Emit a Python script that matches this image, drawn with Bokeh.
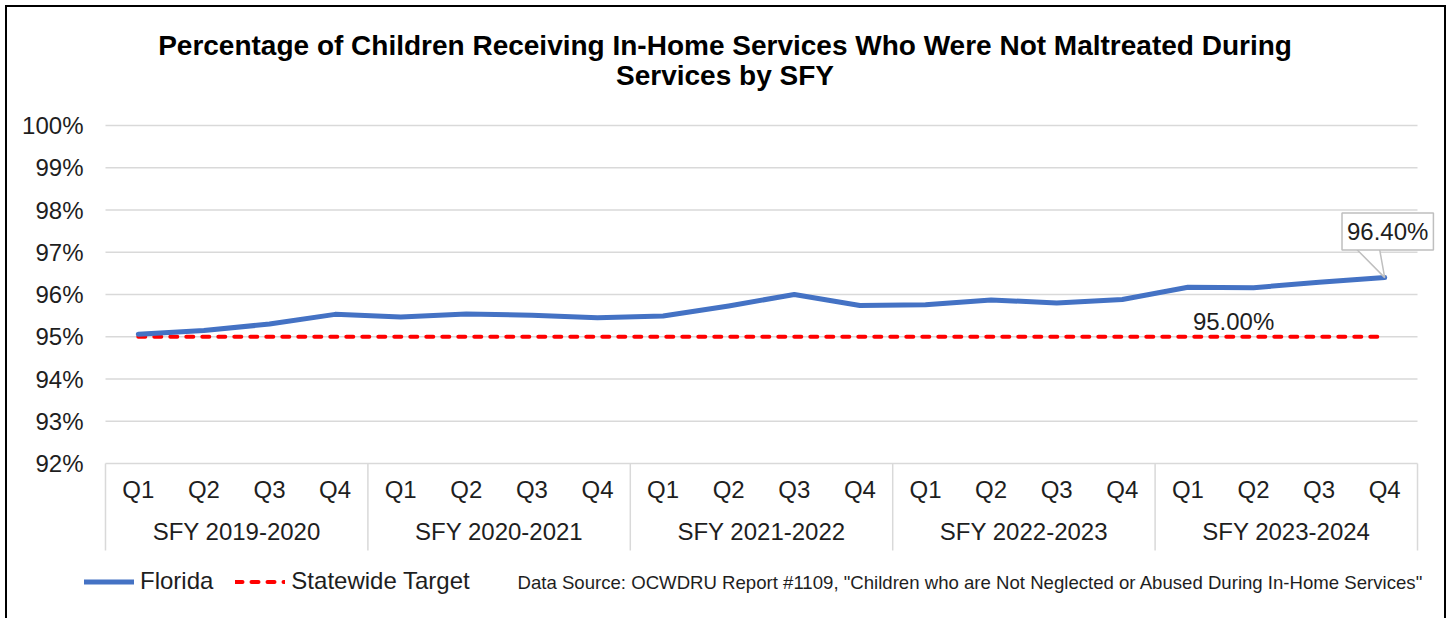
from bokeh.plotting import figure
from bokeh.models import (FactorRange, Range1d, FixedTicker, PrintfTickFormatter, Label,
                          Legend, LegendItem, ColumnDataSource)
from bokeh.core.properties import value
from bokeh.embed import file_html
from bokeh.resources import INLINE

# ---------------- data ----------------
years = ["SFY 2019-2020", "SFY 2020-2021", "SFY 2021-2022", "SFY 2022-2023", "SFY 2023-2024"]
quarters = ["Q1", "Q2", "Q3", "Q4"]
florida = [95.06, 95.15, 95.30, 95.53,
           95.47, 95.54, 95.51, 95.45,
           95.49, 95.73, 96.00, 95.74,
           95.76, 95.87, 95.80, 95.88,
           96.17, 96.16, 96.29, 96.40]
target_value = 95.00
y_ticks = [92, 93, 94, 95, 96, 97, 98, 99, 100]
title_lines = ["Percentage of Children Receiving In-Home Services Who Were Not Maltreated During",
               "Services by SFY"]
source_note = 'Data Source: OCWDRU Report #1109, "Children who are Not Neglected or Abused During In-Home Services"'
series_names = ["Florida", "Statewide Target"]

factors = [(y, q) for y in years for q in quarters]
target = [target_value for _ in factors]
n_f = len(factors)
n_q = len(quarters)


def synth(i):
    # synthetic coordinate of factor i in the FactorRange
    return i + 0.5


# ---------------- layout (pixels) ----------------
W, H = 1449, 618
TOP_BAND = 125        # title area above the 100% line (inside the frame)
PLOT_H = 338          # height of the 92%..100% band
BOTTOM_BAND = H - TOP_BAND - PLOT_H   # category labels, legend, note (inside the frame)
AXIS_BAND = 87        # height of the category-label block
CAT_W = 65.6          # pixels per quarter
PAD = 0.32            # extra categories of room on each side of the plot area
BL = round(105 - PAD * CAT_W)
BR = W - round(105 + (n_f + PAD) * CAT_W)
FONT = "Liberation Sans"
FS = "24px"
TXT = "#1e1e1e"
GRID = "#d9d9d9"
BLUE = "#4472C4"
RED = "#FF0000"

span = y_ticks[-1] - y_ticks[0]
px_unit = span / PLOT_H
y_start = y_ticks[0] - BOTTOM_BAND * px_unit
y_end = y_ticks[-1] + TOP_BAND * px_unit
sep_bottom = y_ticks[0] - AXIS_BAND * px_unit

p = figure(x_range=FactorRange(*factors, group_padding=0, range_padding=2 * PAD / n_f),
           y_range=Range1d(y_start, y_end),
           width=W, height=H, output_backend="svg", toolbar_location=None,
           min_border_left=BL, min_border_right=BR, min_border_top=0, min_border_bottom=0)
p.title.visible = False
p.outline_line_color = None
p.background_fill_color = None
p.border_fill_color = None
p.styles = {
    "background": ("linear-gradient(#000,#000) left 5px top 5px / 2px 100% no-repeat, "
                   "linear-gradient(#000,#000) left 5px top 5px / calc(100% - 8px) 2px no-repeat, "
                   "linear-gradient(#000,#000) right 3px top 5px / 2px 100% no-repeat, #fff")
}

# horizontal grid, limited to the category span
p.xgrid.visible = False
p.ygrid.visible = False
p.segment(x0=[0] * len(y_ticks), x1=[n_f] * len(y_ticks), y0=y_ticks, y1=y_ticks,
          line_color=GRID, line_width=1.5)

# y axis
p.yaxis.ticker = FixedTicker(ticks=y_ticks)
p.yaxis.formatter = PrintfTickFormatter(format="%d%%")
p.yaxis.axis_line_color = None
p.yaxis.major_tick_line_color = None
p.yaxis.minor_tick_line_color = None
p.yaxis.major_tick_out = 0
p.yaxis.major_tick_in = 0
p.yaxis.major_label_standoff = 1
p.yaxis.major_label_text_font = FONT
p.yaxis.major_label_text_font_size = FS
p.yaxis.major_label_text_color = TXT

# x axis, pinned to the 92% line
xa = p.xaxis[0]
xa.fixed_location = y_ticks[0]
xa.axis_line_color = None
xa.major_tick_line_color = None
xa.major_tick_out = 0
xa.major_tick_in = 0
xa.major_label_standoff = 12
xa.major_label_text_font = FONT
xa.major_label_text_font_size = FS
xa.major_label_text_color = TXT
xa.group_text_font = FONT
xa.group_text_font_size = FS
xa.group_text_font_style = "normal"
xa.group_text_color = TXT
xa.separator_line_color = None

# group separators in the label band
bounds = [i * n_q for i in range(len(years) + 1)]
p.segment(x0=bounds, x1=bounds, y0=[sep_bottom] * len(bounds), y1=[y_ticks[0]] * len(bounds),
          line_color=GRID, line_width=1.5)

# series
src = ColumnDataSource(dict(x=factors, florida=florida, target=target))
r_target = p.line("x", "target", source=src, line_color=RED, line_width=4,
                  line_dash="7 9", line_cap="round")
r_fl = p.line("x", "florida", source=src, line_color=BLUE, line_width=5,
              line_cap="round", line_join="round")

# callout for the last value
last_v = florida[-1]
lx = synth(n_f - 1)
ptr = ColumnDataSource(dict(x=[lx - 0.44, lx, lx - 0.08],
                            y=[last_v + 0.69, last_v, last_v + 0.69]))
p.patch("x", "y", source=ptr, fill_color="white", line_color=None)
p.line("x", "y", source=ptr, line_color="#bfbfbf", line_width=1.5)
p.add_layout(Label(x=lx, y=last_v, x_offset=3, y_offset=46, text=f"{last_v:.2f}%",
                   text_align="center", text_baseline="middle",
                   text_font=FONT, text_font_size=FS, text_color=TXT,
                   background_fill_color="white", border_line_color="#bfbfbf",
                   border_line_width=1.5, padding=5))

# target label
p.add_layout(Label(x=synth(n_f - n_q), y=target_value, x_offset=5, y_offset=15,
                   text=f"{target_value:.2f}%", text_align="left", text_baseline="middle",
                   text_font=FONT, text_font_size=FS, text_color=TXT))

# title (inside the frame's top band)
title_x = W / 2 - BL
for k, line in enumerate(title_lines):
    p.add_layout(Label(x=title_x, y=H - 45 - 30 * k, x_units="screen", y_units="screen",
                       text=line, text_align="center", text_baseline="middle",
                       text_font=FONT, text_font_size="28px", text_font_style="bold",
                       text_color="black"))

# legend (bottom-left of the frame)
legend = Legend(items=[LegendItem(label=value(series_names[0]), renderers=[r_fl]),
                       LegendItem(label=value(series_names[1]), renderers=[r_target])],
                location=(0, H - 595), orientation="horizontal",
                glyph_width=50, glyph_height=27, label_standoff=6, spacing=22,
                padding=0, margin=0, border_line_color=None, background_fill_alpha=0,
                label_text_font=FONT, label_text_font_size=FS, label_text_color=TXT)
p.add_layout(legend)

# data source note
p.add_layout(Label(x=517 - BL, y=H - 582, x_units="screen", y_units="screen", text=source_note,
                   text_align="left", text_baseline="middle",
                   text_font=FONT, text_font_size="18.6px", text_color=TXT))

open("out.html", "w").write(file_html(p, INLINE))
